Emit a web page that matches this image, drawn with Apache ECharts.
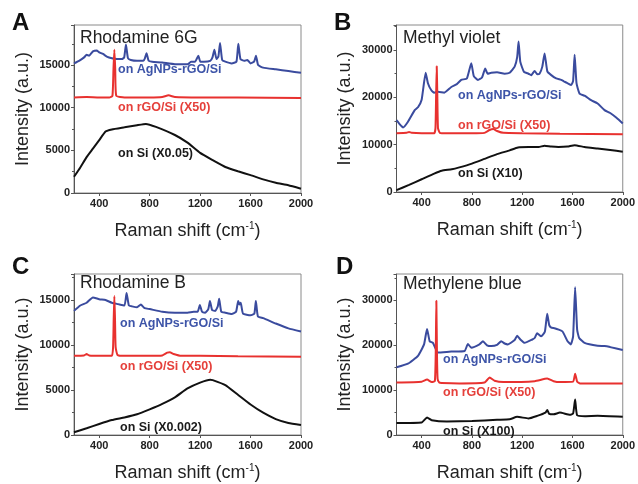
<!DOCTYPE html>
<html><head><meta charset="utf-8">
<script src="https://cdn.jsdelivr.net/npm/echarts@6/dist/echarts.min.js"></script>
<style>html,body{margin:0;padding:0;background:#fff}#c{width:638px;height:484px}</style>
</head><body><div id="c"></div>
<script>
// ---------- Data ----------
const xTicks = [400, 800, 1200, 1600, 2000];
const panelLetters = ['A', 'B', 'C', 'D'];
const panelTitles = ['Rhodamine 6G', 'Methyl violet', 'Rhodamine B', 'Methylene blue'];
const seriesNames = ['on AgNPs-rGO/Si', 'on rGO/Si (X50)'];
const siNames = ['on Si (X0.05)', 'on Si (X10)', 'on Si (X0.002)', 'on Si (X100)'];
const yMax = [19700, 35300, 17900, 35900];
const yInterval = [5000, 10000, 5000, 10000];

// Panel A  Rhodamine 6G
const aBlueX = [200,240,280,300,320,350,380,400,430,460,500,540,580,598,612,628,650,700,750,762,775,792,820,900,1000,1100,1130,1160,1172,1186,1202,1230,1280,1298,1313,1330,1345,1358,1375,1400,1450,1488,1503,1520,1550,1575,1600,1628,1643,1660,1700,1800,1900,2000];
const aBlueY = [15200,15500,15900,16200,16100,16600,16700,16500,16300,16000,15800,15700,15700,15900,17400,15800,15600,15500,15500,15800,16400,15500,15400,15300,15100,15100,15400,15400,15700,16100,15400,15400,15500,15900,16800,15700,16000,17600,15600,15400,15200,15400,17500,15700,15500,15600,15200,15400,16100,15000,14700,14500,14300,14100];
const aRedX = [200,300,400,480,505,513,520,527,535,600,800,900,950,1000,1200,1500,2000];
const aRedY = [11200,11250,11200,11200,11400,14500,16800,14500,11400,11200,11200,11250,11450,11250,11200,11200,11150];
const aSiX = [200,250,300,350,400,450,500,600,700,770,850,1000,1100,1200,1300,1400,1500,1600,1700,1800,1900,2000];
const aSiY = [1900,3000,4200,5200,6200,7200,7450,7700,7950,8100,7750,6800,5900,4700,3850,3050,2550,2100,1600,1200,900,500];

// Panel B  Methyl violet
const bBlueX = [200,230,252,290,345,371,400,432,450,477,500,530,580,636,680,715,760,795,815,848,880,906,925,954,1000,1060,1100,1140,1160,1171,1185,1214,1250,1272,1299,1320,1338,1360,1378,1400,1431,1470,1510,1531,1560,1590,1605,1617,1632,1656,1700,1748,1800,1855,1900,1950,2000];
const bBlueY = [15200,14200,13650,14800,17300,17900,19500,25200,23000,21500,21000,21200,21000,22200,22800,23700,24000,27200,24500,23700,24200,26100,25000,25200,25300,25000,25200,26500,28500,31800,27500,25400,25000,24700,25600,24900,25000,26500,29300,25500,24700,24000,23700,23400,23000,22600,23500,29000,23000,20800,20300,19400,18700,17300,16700,15700,14500];
const bRedX = [200,280,300,320,400,500,510,515,520,525,530,545,600,800,900,940,970,1000,1050,1200,1500,2000];
const bRedY = [12400,12500,12700,12500,12400,12400,13500,20000,26600,20000,13500,12500,12400,12400,12500,13100,13300,12900,12500,12400,12300,12200];
const bSiX = [200,300,400,500,560,640,700,800,900,1000,1100,1166,1250,1330,1378,1430,1489,1560,1617,1696,1800,1900,2000];
const bSiY = [400,1500,2700,3900,4500,4800,5200,6000,7000,8000,8800,9400,9500,9500,9800,9600,9500,9600,9900,9500,9200,8900,8500];

// Panel C  Rhodamine B
const cBlueX = [200,250,300,350,400,450,500,550,600,617,635,660,700,730,760,800,900,1000,1100,1150,1180,1198,1215,1240,1265,1278,1295,1320,1340,1351,1368,1400,1450,1485,1502,1512,1522,1540,1600,1630,1642,1658,1700,1800,1900,2000];
const cBlueY = [13800,14400,14700,15300,15100,15000,14700,14550,14400,15800,14400,14300,14200,14500,14100,14000,13700,13600,13600,13700,13700,14450,13700,13600,14000,14900,13900,13800,14300,15150,13700,13600,13450,13700,14900,14500,14700,13500,13300,13500,14900,13200,13000,12400,11850,11500];
const cRedX = [200,280,300,320,400,500,510,515,520,525,530,545,600,800,900,940,960,990,1050,1200,1500,2000];
const cRedY = [8800,8850,9000,8850,8800,8800,9800,13000,15450,13000,9800,8900,8800,8800,8850,9150,9200,9000,8800,8800,8750,8700];
const cSiX = [200,300,400,500,600,700,800,900,1000,1100,1200,1280,1300,1400,1500,1600,1700,1800,1900,2000];
const cSiY = [300,750,1230,1660,1950,2300,2850,3460,4180,5180,5830,6150,6100,5550,4470,3390,2480,1770,1340,1120];

// Panel D  Methylene blue
const dBlueX = [200,291,371,419,443,464,490,530,636,742,768,795,860,888,920,954,1000,1033,1060,1086,1140,1160,1185,1219,1280,1299,1319,1351,1380,1399,1415,1431,1457,1490,1521,1561,1587,1605,1621,1637,1653,1696,1800,1855,1900,2000];
const dBlueY = [15100,15900,17650,20200,23650,20900,20550,18370,18600,18740,20300,19460,20200,20900,20000,19830,20100,20900,20400,20200,21200,22130,21300,20550,21300,21630,22700,22000,23000,27050,24500,23950,23800,23500,23080,20900,20200,22000,32970,23500,21630,20550,19900,19830,19600,18960];
const dRedX = [200,400,443,480,505,512,517,522,527,540,560,700,900,941,980,1050,1300,1399,1450,1500,1605,1621,1637,1660,1800,2000];
const dRedY = [11710,11900,12360,11800,12000,18000,29930,18000,12500,11700,11600,11500,11700,12800,12100,11800,12000,12580,12000,11800,11900,13670,11900,11500,11500,11500];
const dSiX = [200,400,443,480,600,800,1000,1100,1160,1250,1319,1385,1399,1415,1450,1500,1580,1605,1621,1637,1700,1800,2000];
const dSiY = [2690,2800,3900,3300,3000,3100,3400,3500,4050,3700,4270,5000,5570,4700,4600,4990,4500,4800,7900,4400,4200,4270,4050];

// ---------- Build ----------
const blue = '#3a4b9e', red = '#e8312f', black = '#111111';
const zip = (xs, ys) => xs.map((x, i) => [x, ys[i]]);
const panels = [
  [aBlueX, aBlueY, aRedX, aRedY, aSiX, aSiY],
  [bBlueX, bBlueY, bRedX, bRedY, bSiX, bSiY],
  [cBlueX, cBlueY, cRedX, cRedY, cSiX, cSiY],
  [dBlueX, dBlueY, dRedX, dRedY, dSiX, dSiY]
];
const grids = [
  {left: 74, top: 25, width: 227, height: 168},
  {left: 396.5, top: 25, width: 226.5, height: 167},
  {left: 74, top: 274, width: 227, height: 165.5},
  {left: 396.5, top: 274, width: 226.5, height: 165.5}
];
const labelPos = [
  {title: [80, 40], blue: [118, 71], red: [118, 109], si: [118, 155], letter: [12, 26]},
  {title: [403, 40], blue: [458, 97], red: [458, 127], si: [458, 175], letter: [334, 26]},
  {title: [80, 285], blue: [120, 325], red: [120, 368], si: [120, 429], letter: [12, 270]},
  {title: [403, 286], blue: [443, 361], red: [443, 394], si: [443, 433], letter: [336, 270]}
];
const FF = 'Liberation Sans, Arial, sans-serif';
const tickFont = {fontFamily: FF, fontSize: 11, fontWeight: 'bold', color: '#222', formatter: v => String(v)};
const xAxes = [], yAxes = [], series = [], graphics = [];
grids.forEach((g, i) => {
  g.show = true; g.borderColor = '#8a8a8a'; g.borderWidth = 1; g.containLabel = false;
  xAxes.push({
    gridIndex: i, type: 'value', min: 200, max: 2000,
    axisLine: {show: true, onZero: false, lineStyle: {color: '#555', width: 1}},
    axisTick: {show: true, length: 3, lineStyle: {color: '#555'}, customValues: xTicks},
    axisLabel: Object.assign({margin: 5, customValues: xTicks}, tickFont),
    splitLine: {show: false},
    name: 'Raman shift (cm{sup|-1})', nameLocation: 'middle', nameGap: 28,
    nameTextStyle: {fontFamily: FF, fontSize: 18, color: '#222', lineHeight: 20,
      rich: {sup: {fontSize: 10, lineHeight: 10, verticalAlign: 'top', color: '#222', fontFamily: FF}}}
  });
  yAxes.push({
    gridIndex: i, type: 'value', min: 0, max: yMax[i], interval: yInterval[i],
    axisLine: {show: true, lineStyle: {color: '#555', width: 1}},
    axisTick: {show: true, length: 3, lineStyle: {color: '#555'}},
    minorTick: {show: true, splitNumber: 2, length: 2, lineStyle: {color: '#555'}},
    axisLabel: Object.assign({margin: 4, showMaxLabel: false}, tickFont),
    splitLine: {show: false},
    name: 'Intensity (a.u.)', nameLocation: 'middle', nameGap: 42,
    nameTextStyle: {fontFamily: FF, fontSize: 18, color: '#222'}
  });
  const p = panels[i];
  [[p[0], p[1], blue], [p[2], p[3], red], [p[4], p[5], black]].forEach(s => {
    series.push({type: 'line', xAxisIndex: i, yAxisIndex: i, data: zip(s[0], s[1]),
      showSymbol: false, symbol: 'none', lineStyle: {color: s[2], width: 2}, smooth: 0.15, z: 3, animation: false});
  });
  const L = labelPos[i];
  const txt = (pos, text, color, size, weight) => graphics.push({type: 'text', left: pos[0], top: pos[1] - size * 0.6, z: 10,
    style: {text: text, fill: color, font: weight + ' ' + size + 'px "Liberation Sans", Arial, sans-serif'}});
  txt(L.title, panelTitles[i], '#222', 17.5, 'normal');
  txt(L.blue, seriesNames[0], '#3d54a8', 12.5, 'bold');
  txt(L.red, seriesNames[1], '#e5403b', 12.5, 'bold');
  txt(L.si, siNames[i], '#1a1a1a', 12.5, 'bold');
  txt(L.letter, panelLetters[i], '#111', 24, 'bold');
});
const chart = echarts.init(document.getElementById('c'), null, {renderer: 'canvas'});
chart.setOption({animation: false, backgroundColor: '#fff', grid: grids, xAxis: xAxes, yAxis: yAxes, series: series, graphic: graphics});
</script></body></html>
